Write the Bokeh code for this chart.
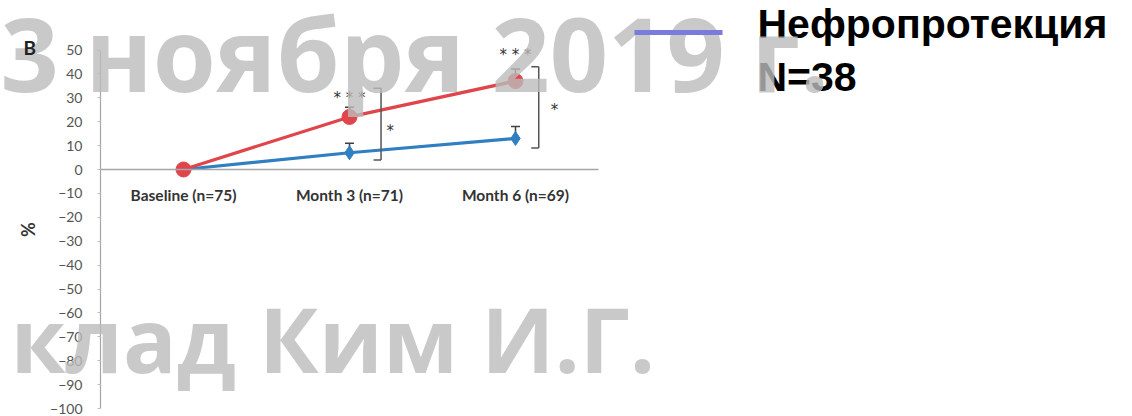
from bokeh.plotting import figure
from bokeh.models import (Label, Whisker, ColumnDataSource, FixedTicker,
                          TeeHead, Range1d, Arrow, LinearScale)
from bokeh.embed import file_html
from bokeh.resources import INLINE
from bokeh.core.properties import value

# ---------------- data ----------------
categories = ["Baseline (n=75)", "Month 3 (n=71)", "Month 6 (n=69)"]
red_values = [0, 22, 37]
blue_values = [0, 7, 13]
err_index = [1, 2]                   # Month 3, Month 6
red_err_upper = [26, 42]
blue_err_upper = [11, 18]
sig_within = ["***", "***"]          # above red points
sig_within_y = [30, 48]
bracket_top = [34, 43]              # between-group brackets
bracket_bottom = [4, 9]
sig_between = ["*", "*"]
sig_between_y = [16, 25]
y_ticks = list(range(-100, 51, 10))
panel_letter = "B"
y_label = "%"
legend_line1 = "Нефропротекция"
legend_line2 = "N=38"
watermark_top = "3 ноября 2019 г."
watermark_bottom = "клад Ким И.Г."

RED = "#e0454b"
BLUE = "#2f7fc1"
DARK = "#404040"

W, H = 1132, 416
# chart placement on the slide (canvas px)
X0_PX, STEP_PX = 183, 166          # centre of first category, category width
Y0_PX, PX_PER_UNIT = 169, 2.39      # zero line, px per 1 %

x_pos = list(range(len(categories)))

x_start = -X0_PX / STEP_PX
x_end = (W - X0_PX) / STEP_PX
y_end = Y0_PX / PX_PER_UNIT
y_start = -(H - Y0_PX) / PX_PER_UNIT

p = figure(width=W, height=H, x_range=Range1d(x_start, x_end),
           y_range=Range1d(y_start, y_end),
           output_backend="svg", toolbar_location=None, min_border=0)
p.outline_line_color = None
p.xgrid.visible = False
p.ygrid.visible = False
p.background_fill_color = "white"
p.border_fill_color = "white"

# canvas-pixel helper ranges for slide-level annotations
p.extra_x_ranges = {"px": Range1d(0, W)}
p.extra_x_scales = {"px": LinearScale()}
p.extra_y_ranges = {"py": Range1d(H, 0)}
p.extra_y_scales = {"py": LinearScale()}

# ---- y axis ----
ya = p.yaxis[0]
ya.fixed_location = -0.5
ya.bounds = (y_ticks[0], y_ticks[-1])
ya.ticker = FixedTicker(ticks=y_ticks)
ya.axis_line_color = "#a6a6a6"
ya.axis_line_width = 1.2
ya.major_tick_line_color = "#c0c0c0"
ya.major_tick_out = 3
ya.major_tick_in = 0
ya.minor_tick_line_color = None
ya.major_label_text_font = "Lato"
ya.major_label_text_font_size = "14px"
ya.major_label_text_color = "#555555"
ya.major_label_standoff = 15
ya.axis_label = y_label
ya.axis_label_text_font = "Lato"
ya.axis_label_text_font_style = "bold"
ya.axis_label_text_font_size = "18px"
ya.axis_label_text_color = "#333333"
ya.axis_label_standoff = 8

# ---- x axis (category axis along the zero line) ----
xa = p.xaxis[0]
xa.fixed_location = 0
xa.bounds = (-0.5, len(categories) - 0.5)
xa.ticker = FixedTicker(ticks=x_pos)
xa.major_label_overrides = {i: c for i, c in zip(x_pos, categories)}
xa.axis_line_color = "#a6a6a6"
xa.axis_line_width = 1.5
xa.major_tick_line_color = None
xa.minor_tick_line_color = None
xa.major_label_standoff = 10
xa.major_label_text_font = "Lato"
xa.major_label_text_font_style = "bold"
xa.major_label_text_font_size = "15.5px"
xa.major_label_text_color = "#333333"

# lines
p.line(x_pos, blue_values, line_color=BLUE, line_width=3.2)
p.line(x_pos, red_values, line_color=RED, line_width=3.2)

# error bars
for vals, ups in ((red_values, red_err_upper), (blue_values, blue_err_upper)):
    src = ColumnDataSource(dict(x=err_index, lower=[vals[i] for i in err_index],
                                upper=ups))
    p.add_layout(Whisker(base="x", lower="lower", upper="upper", source=src,
                         dimension="height", line_color=DARK, line_width=1.5,
                         lower_head=None,
                         upper_head=TeeHead(size=9, line_color=DARK, line_width=1.5)))

# markers
p.scatter(x_pos, blue_values, marker="diamond", size=14, fill_color=BLUE,
          line_color=BLUE)
p.scatter(x_pos, red_values, marker="circle", size=15, fill_color=RED,
          line_color=RED)

# significance labels
p.text(x=err_index, y=sig_within_y, text=[" ".join(s) for s in sig_within],
       text_align="center", text_baseline="middle", text_font=value("DejaVu Sans"),
       text_font_size="15px", text_color="#333333")

off = [0.19, 0.14]
tick = 0.045
bx = [i + o for i, o in zip(err_index, off)]
bx_l = [b - tick for b in bx]
p.segment(x0=bx, y0=bracket_top, x1=bx, y1=bracket_bottom, line_color="#555555",
          line_width=1.5)
p.segment(x0=bx_l, y0=bracket_top, x1=bx, y1=bracket_top, line_color="#555555",
          line_width=1.5)
p.segment(x0=bx_l, y0=bracket_bottom, x1=bx, y1=bracket_bottom, line_color="#555555",
          line_width=1.5)
sx = [bx[0] + 0.055, bx[1] + 0.095]
p.text(x=sx, y=sig_between_y, text=sig_between, text_align="center",
       text_baseline="middle", text_font=value("DejaVu Sans"), text_font_size="15px",
       text_color="#333333")


def canvas_label(text, cx, cy, **kw):
    return Label(x=cx, y=cy, x_range_name="px", y_range_name="py", text=text,
                 text_baseline="middle", **kw)


# slide legend text
for txt, cy in ((legend_line1, 23), (legend_line2, 76)):
    p.add_layout(canvas_label(txt, 757, cy, text_font="Liberation Sans",
                              text_font_style="bold", text_font_size="41px",
                              text_color="black"))

# watermarks
for txt, cx, cy, fs in ((watermark_top, 0, 52, "102px"),
                        (watermark_bottom, 10, 338, "89px")):
    p.add_layout(canvas_label(txt, cx, cy, text_font="Open Sans",
                              text_font_style="bold", text_font_size=fs,
                              text_color="#bcbcbc", text_alpha=0.8))

# legend line on top
p.add_layout(Arrow(x_start=634, y_start=32, x_end=722, y_end=32, end=None,
                   line_color="#7b7bdb", line_width=5, x_range_name="px",
                   y_range_name="py"))

# panel letter
p.add_layout(canvas_label(panel_letter, 23, 47, text_font="Lato",
                          text_font_style="bold", text_font_size="19px",
                          text_color="#222222"))

open("out.html", "w").write(file_html(p, INLINE))
